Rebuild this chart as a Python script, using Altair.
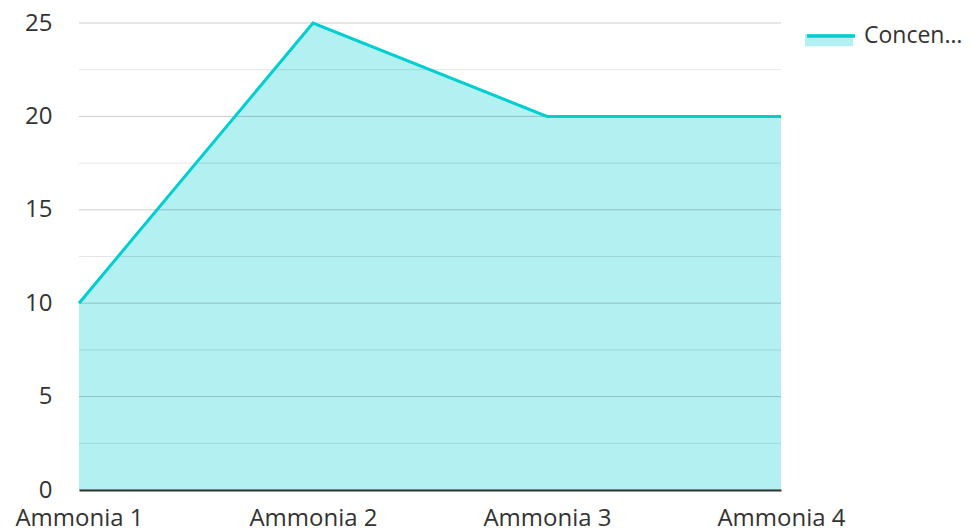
import altair as alt
import pandas as pd

categories = ["Ammonia 1", "Ammonia 2", "Ammonia 3", "Ammonia 4"]
values = [10, 25, 20, 20]
series_name = "Concentration"
major_ticks = [0, 5, 10, 15, 20, 25]
minor_ticks = [2.5, 7.5, 12.5, 17.5, 22.5]

LINE = "#00CED1"
FILL = "#B2F0F1"
TEXT = "#333333"

df = pd.DataFrame({"category": categories, "value": values,
                   "series": [series_name] * len(categories)})
major_df = pd.DataFrame({"v": major_ticks})
minor_df = pd.DataFrame({"v": minor_ticks})

x = alt.X("category:N", sort=categories,
          scale=alt.Scale(type="point", padding=0),
          axis=alt.Axis(title=None, labelAngle=0, ticks=False, grid=False,
                        domainColor="#333333", domainWidth=2, labelPadding=16,
                        zindex=1))
y = alt.Y("value:Q", scale=alt.Scale(domain=[0, 25], nice=False),
          axis=alt.Axis(title=None, values=major_ticks, domain=False, ticks=False,
                        grid=False, labelPadding=27))

area = alt.Chart(df).mark_area().encode(
    x=x, y=y,
    fill=alt.Fill("series:N", scale=alt.Scale(range=[FILL]),
                  legend=alt.Legend(title=None, orient="none", legendX=726, legendY=-13,
                                    symbolType="M-1,0H1V0.51H-1Z", symbolSize=2304,
                                    symbolStrokeWidth=0, symbolOpacity=1,
                                    labelExpr="''", labelLimit=104, labelOffset=7)),
)

major = alt.Chart(major_df).mark_rule(color="#000000", opacity=0.2, strokeWidth=1).encode(
    y=alt.Y("v:Q"))
minor = alt.Chart(minor_df).mark_rule(color="#000000", opacity=0.1, strokeWidth=1).encode(
    y=alt.Y("v:Q"))

line = alt.Chart(df).mark_line(strokeWidth=3).encode(
    x=x, y=y,
    stroke=alt.Stroke("series:N", scale=alt.Scale(range=[LINE]),
                      legend=alt.Legend(title=None, orient="none", legendX=726, legendY=-13,
                                        symbolType="M-1,0H1", symbolSize=2304,
                                        symbolStrokeWidth=3.5,
                                        labelLimit=102, labelOffset=7,
                                        labelColor=TEXT)),
)

chart = alt.layer(area, major, minor, line).properties(
    width=702, height=467,
    autosize=alt.AutoSizeParams(type="none"),
    padding={"left": 71, "top": 15, "right": 184, "bottom": 40},
).configure(font="Open Sans").configure_axis(
    labelFont="Open Sans", labelFontSize=24, labelColor=TEXT
).configure_legend(
    labelFont="Open Sans", labelFontSize=23, labelColor=TEXT
).configure_view(stroke=None)

chart.save("out.html", embed_options={"renderer": "svg", "actions": False})
